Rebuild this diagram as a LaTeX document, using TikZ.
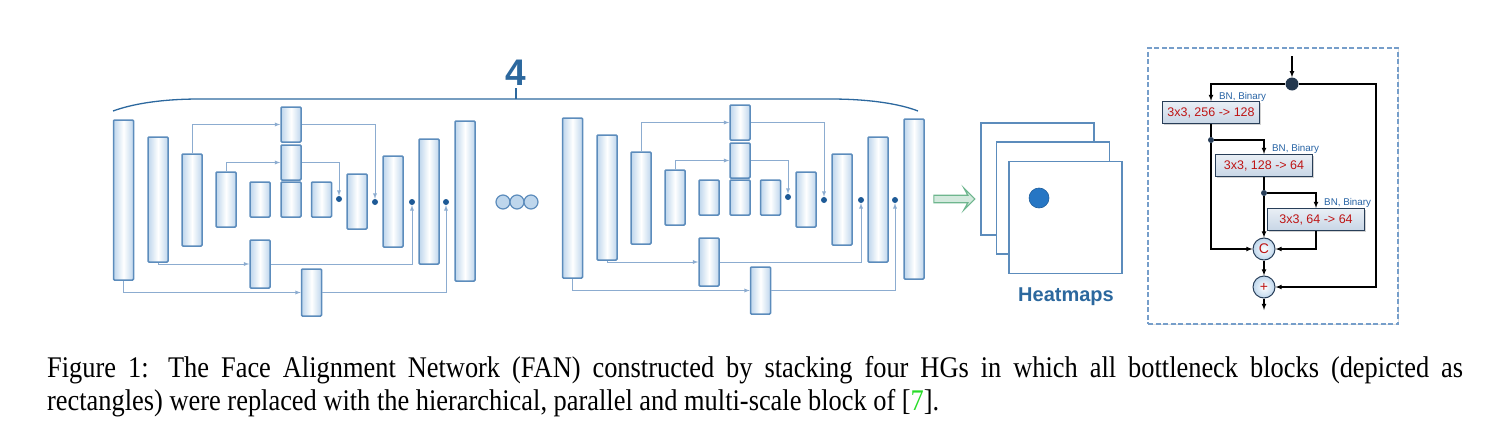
\documentclass[tikz,border=0pt]{standalone}
\usepackage{fontspec}
\setmainfont{Liberation Serif}
\newfontfamily\arialfont{Liberation Sans}
\usepackage{tikz}
\usetikzlibrary{arrows.meta,shadows,shapes.arrows}
\definecolor{hgborder}{RGB}{92,140,188}
\definecolor{hgside}{RGB}{190,214,236}
\definecolor{hgline}{RGB}{140,172,208}
\definecolor{hgdot}{RGB}{30,90,150}
\definecolor{fanblue}{RGB}{44,104,158}
\definecolor{arrowgreen}{RGB}{110,182,142}
\definecolor{heatdot}{RGB}{38,118,196}
\definecolor{blkframe}{RGB}{118,158,202}
\definecolor{blkbox}{RGB}{200,214,230}
\definecolor{blkedge}{RGB}{40,62,88}
\definecolor{blkred}{RGB}{190,20,20}
\definecolor{blklabel}{RGB}{40,100,165}
\definecolor{citegreen}{RGB}{40,220,40}

\begin{document}
\begin{tikzpicture}[x=1pt,y=-1pt,
  hgbox/.style={draw=hgborder,line width=1.5pt,left color=hgside,right color=hgside,middle color=white,minimum width=20pt,inner sep=0pt,rounded corners=1pt},
  hglink/.style={draw=hgline,line width=0.9pt},
  hgdot/.style={circle,fill=hgdot,inner sep=0pt,minimum size=6pt},
  heat/.style={draw=hgborder,line width=1.5pt,fill=white,minimum width=113pt,minimum height=112pt,inner sep=0pt},
  blkbox/.style={draw=blkedge,line width=1pt,top color=blkbox!40,bottom color=blkbox,minimum width=97pt,minimum height=22pt,inner sep=0pt,
    font=\arialfont\fontsize{12.5}{13}\selectfont,text=blkred,drop shadow={shadow xshift=1.5pt,shadow yshift=-1.5pt,opacity=.35}},
  blklabel/.style={font=\arialfont\fontsize{9.8}{10}\selectfont,text=blklabel,inner sep=0pt,anchor=base west},
  blkop/.style={circle,draw=blkedge,line width=1pt,inner color=white,outer color=hgside,minimum size=22pt,inner sep=0pt,
    font=\arialfont\fontsize{14}{14}\selectfont,text=blkred},
  blkdot/.style={circle,fill=blkedge,inner sep=0pt,minimum size=6pt},
  blk/.style={draw=black,line width=1.1pt,->,>=latex},
  captext/.style={anchor=base west,inner sep=0pt,xscale=0.88,transform shape,font=\fontsize{30}{33}\selectfont}]
\useasboundingbox (0,0) rectangle (1500,439);

% two hourglasses
\foreach \p/\dx/\dy in {L/0/0,R/449/-2}{
\begin{scope}[shift={(\dx,\dy)},name prefix=\p-]
\node[hgbox,minimum height=160pt] (c1) at (123.5,200) {};
\node[hgbox,minimum height=125pt] (c2) at (158,199.5) {};
\node[hgbox,minimum height=92pt] (c3) at (192,200) {};
\node[hgbox,minimum height=55pt] (c4) at (226,199.5) {};
\node[hgbox,minimum height=35pt] (c5) at (260,199.5) {};
\node[hgbox,minimum height=35pt] (c6) at (291,199.5) {};
\node[hgbox,minimum height=35pt] (c7) at (321.5,199.5) {};
\node[hgbox,minimum height=55pt] (c8) at (357,201.5) {};
\node[hgbox,minimum height=91pt] (c9) at (393,201.5) {};
\node[hgbox,minimum height=125pt] (c10) at (429,201.5) {};
\node[hgbox,minimum height=160pt] (c11) at (465,201) {};
\node[hgbox,minimum height=35pt] (t1) at (291,124.5) {};
\node[hgbox,minimum height=35pt] (t2) at (291,162.5) {};
\node[hgbox,minimum height=48pt] (b1) at (260,264) {};
\node[hgbox,minimum height=47pt] (b2) at (311.5,292.5) {};
\node[hgdot] (d1) at (339,199) {};
\node[hgdot] (d2) at (375,202) {};
\node[hgdot] (d3) at (412,202) {};
\node[hgdot] (d4) at (446,202) {};
\draw[hglink,->,>=latex] (c3.north) |- (t1.west);
\draw[hglink,->,>=latex] (t1.east) -| (d2.north);
\draw[hglink,->,>=latex] (c4.north) |- (t2.west);
\draw[hglink,->,>=latex] (t2.east) -| (d1.north);
\draw[hglink,->,>=latex] (c2.south) |- (b1.west);
\draw[hglink,->,>=latex] (b1.east) -| (d3.south);
\draw[hglink,->,>=latex] (c1.south) |- (b2.west);
\draw[hglink,->,>=latex] (b2.east) -| (d4.south);
\end{scope}}

% brace and count
\draw[fanblue,line width=1.3pt] (113,111) .. controls (135,103) and (165,99) .. (200,99) -- (830,99) .. controls (870,99) and (900,104) .. (918,111);
\draw[fanblue,line width=1.3pt] (516,99) -- (516,88);
\node[font=\arialfont\bfseries\fontsize{37}{37}\selectfont,text=fanblue,anchor=base,inner sep=0pt] (four) at (516,85) {4};

% dots between the hourglasses
\foreach \i/\x in {1/503,2/517,3/531}
  \node[circle,draw=hgborder,line width=1.2pt,fill=hgside,minimum size=14pt,inner sep=0pt] (o\i) at (\x,202) {};

% heatmaps
\node[single arrow,draw=arrowgreen,line width=1.2pt,fill=arrowgreen!30,minimum height=41pt,minimum width=22pt,
  inner sep=3pt,single arrow head extend=7pt,single arrow head indent=4pt] (toheat) at (952.5,199) {};
\node[heat] (hm1) at (1037.5,179) {};
\node[heat] (hm2) at (1053,198) {};
\node[heat] (hm3) at (1065.5,217.5) {};
\node[circle,fill=heatdot,draw=heatdot!80!black,line width=0.6pt,minimum size=20pt,inner sep=0pt] (spot) at (1039,198) {};
\node[font=\arialfont\bfseries\fontsize{20}{20}\selectfont,text=fanblue,inner sep=0pt] (hmtext) at (1066,297) {Heatmaps};

% block
\node[draw=blkframe,dash pattern=on 5pt off 2.5pt,line width=2.4pt,fill=white,minimum width=250pt,minimum height=276pt,inner sep=0pt,
  drop shadow={shadow xshift=1pt,shadow yshift=-1pt,opacity=.25}] (frame) at (1273,186) {};
\coordinate (in) at (1292,56);
\node[circle,fill=blkedge!90!black,inner sep=0pt,minimum size=13pt] (split) at (1292,84) {};
\coordinate (rx) at (1376,84);
\node[blkbox] (box1) at (1211,112.5) {3x3, 256 -> 128};
\node[blkbox] (box2) at (1264,165.5) {3x3, 128 -> 64};
\node[blkbox] (box3) at (1316,219.5) {3x3, 64 -> 64};
\node[blklabel] (lab1) at (1219,99) {BN, Binary};
\node[blklabel] (lab2) at (1272,151) {BN, Binary};
\node[blklabel] (lab3) at (1324,205) {BN, Binary};
\node[blkdot] (s1) at (1211,140) {};
\node[blkdot] (s2) at (1264,193) {};
\node[blkop] (cat) at (1264,249) {C};
\node[blkop] (sum) at (1264,287) {+};
\coordinate (out) at (1264,310);
\draw[blk] (in) -- (split);
\draw[blk] (split) -| (box1.north);
\draw[blk] (split) -- (rx) |- (sum.east);
\draw[blk,-] (box1.south) -- (s1);
\draw[blk] (s1) -| (box2.north);
\draw[blk] (s1) |- (cat.west);
\draw[blk,-] (box2.south) -- (s2);
\draw[blk] (s2) -| (box3.north);
\draw[blk] (s2) -- (cat.north);
\draw[blk] (box3.south) |- (cat.east);
\draw[blk] (cat) -- (sum);
\draw[blk] (sum) -- (out);

% caption
\node[captext] (cap1) at (47,377) {\makebox[1609pt][s]{Figure 1: The Face Alignment Network (FAN) constructed by stacking four HGs in which all bottleneck blocks (depicted as}};
\node[captext] (cap2) at (47,410) {rectangles) were replaced with the hierarchical, parallel and multi-scale block of [\textcolor{citegreen}{7}].};
\end{tikzpicture}
\end{document}
